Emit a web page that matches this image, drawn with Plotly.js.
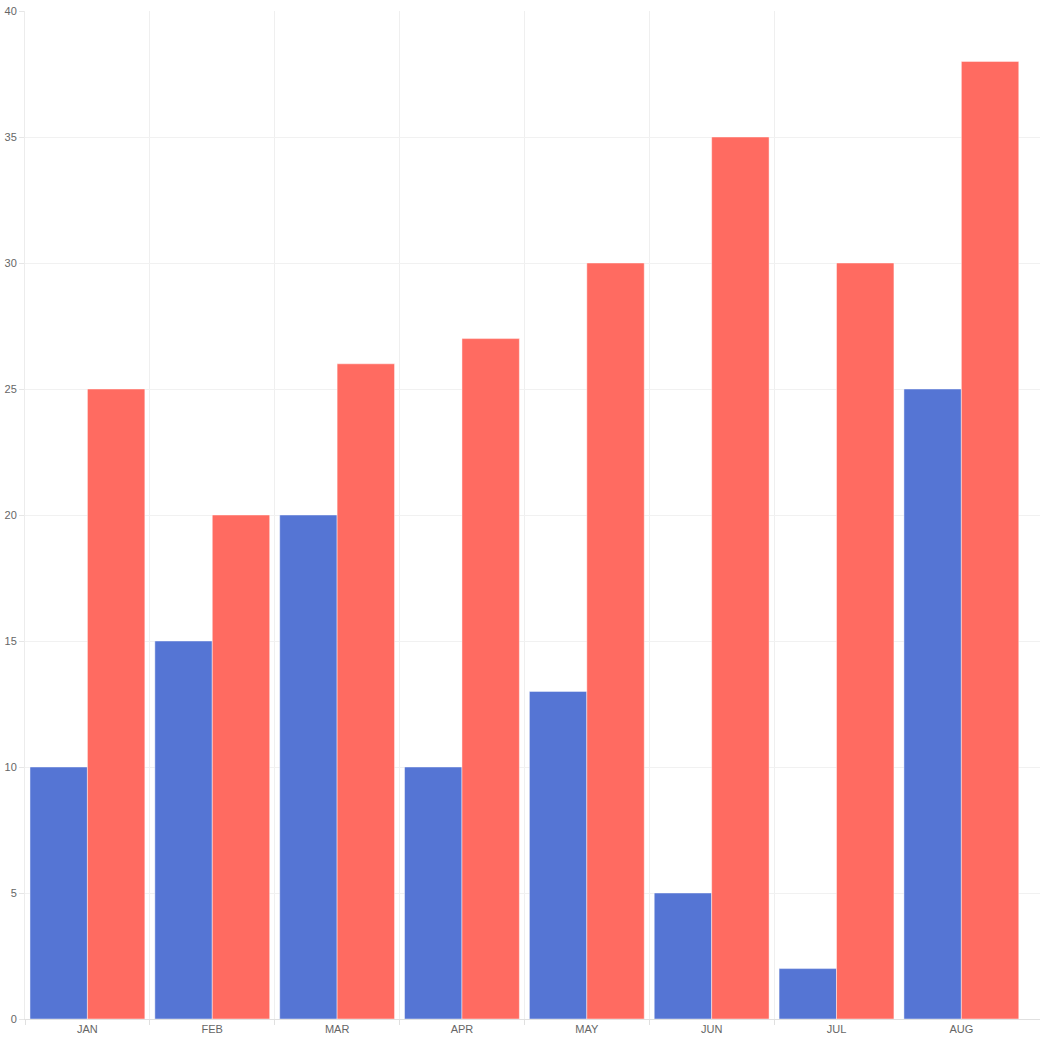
<!DOCTYPE html>
<html>
<head>
<meta charset="utf-8">
<script src="https://cdn.plot.ly/plotly-3.0.1.min.js"></script>
<style>html,body{margin:0;padding:0;background:#fff;}#chart{width:1040px;height:1040px;}</style>
</head>
<body>
<div id="chart"></div>
<script>
const categories = ["JAN", "FEB", "MAR", "APR", "MAY", "JUN", "JUL", "AUG"];
const seriesA = [10, 15, 20, 10, 13, 5, 2, 25];
const seriesB = [25, 20, 26, 27, 30, 35, 30, 38];
const yTicks = [0, 5, 10, 15, 20, 25, 30, 35, 40];

const positions = categories.map((_, i) => i);
const boundaries = categories.slice(0, -1).map((_, i) => i - 0.5);

const traces = [
  {type: "bar", x: positions, y: seriesA, name: "A",
   marker: {color: "#5575D4", line: {color: "rgba(255,255,255,0.45)", width: 1}}},
  {type: "bar", x: positions, y: seriesB, name: "B",
   marker: {color: "#FF6B61", line: {color: "rgba(255,255,255,0.45)", width: 1}}}
];

const layout = {
  width: 1040, height: 1040,
  margin: {l: 25, r: 0, t: 11, b: 21, pad: 0},
  paper_bgcolor: "#fff", plot_bgcolor: "#fff",
  showlegend: false,
  barmode: "group", bargap: 0.08, bargroupgap: 0,
  font: {family: "Liberation Sans, Arial, sans-serif", size: 11, color: "#666"},
  xaxis: {
    type: "linear", range: [-0.5, 7.63],
    tickmode: "array", tickvals: positions, ticktext: categories,
    ticks: "", showgrid: false,
    minor: {tickmode: "array", tickvals: boundaries, showgrid: true,
            gridcolor: "#efefef", gridwidth: 1, ticks: "outside", ticklen: 5, tickcolor: "#e0e0e0"},
    showline: true, linecolor: "#e0e0e0", linewidth: 1,
    zeroline: false, fixedrange: true
  },
  yaxis: {
    range: [0, 40], tickvals: yTicks, ticktext: yTicks.map(String),
    showgrid: true, gridcolor: "#f1f1f1", gridwidth: 1,
    ticks: "outside", ticklen: 5, tickcolor: "#e6e6e6",
    showline: true, linecolor: "#ececec", linewidth: 1,
    zeroline: false, fixedrange: true
  }
};

Plotly.newPlot("chart", traces, layout, {displayModeBar: false, staticPlot: true});
</script>
</body>
</html>
